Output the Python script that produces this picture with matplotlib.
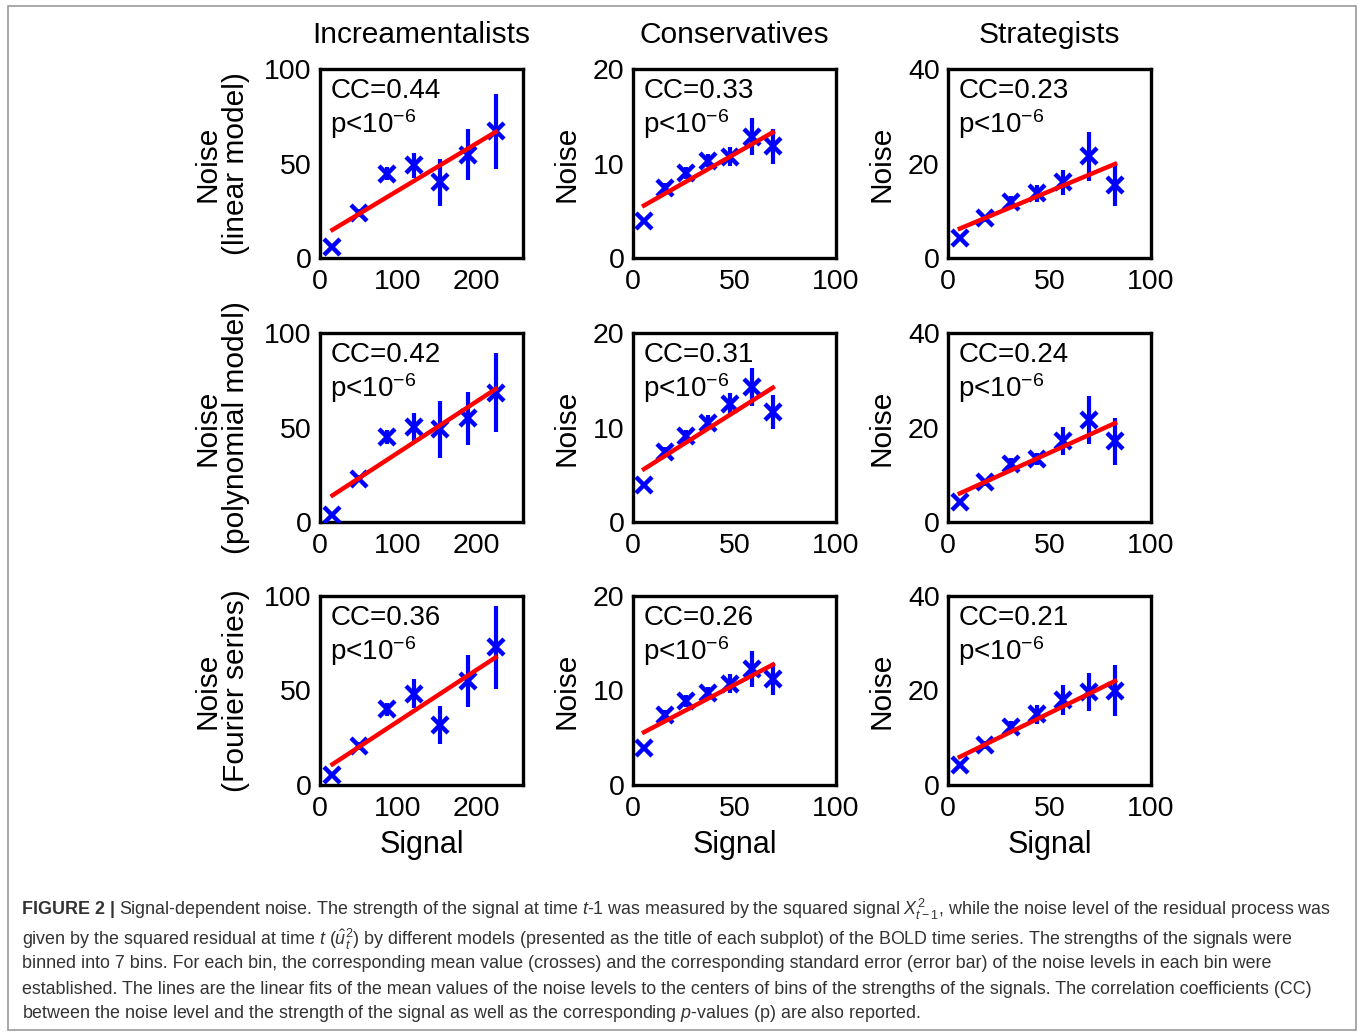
import numpy as np
import matplotlib
matplotlib.use("Agg")
import matplotlib.pyplot as plt
from matplotlib.patches import Rectangle

plt.rcParams['font.family'] = ['Liberation Sans', 'DejaVu Sans']
plt.rcParams['mathtext.fontset'] = 'custom'
plt.rcParams['mathtext.rm'] = 'Liberation Sans'
plt.rcParams['mathtext.it'] = 'Liberation Sans:italic'
plt.rcParams['mathtext.bf'] = 'Liberation Sans:bold'

# column titles / row labels
groups = ['Increamentalists', 'Conservatives', 'Strategists']
models = ['(linear model)', '(polynomial model)', '(Fourier series)']

# bin centres of the signal strength (per group)
signal_inc = [16, 50, 86, 120, 154, 189, 225]
signal_con = [5.4, 16, 26.2, 36.9, 47.9, 58.4, 68.9]
signal_str = [5.8, 18.2, 31, 43.8, 56.7, 69.4, 82.3]

# mean noise per bin and standard error, rows = models
noise_inc = [[5.8, 23.7, 44.7, 49.0, 40.0, 54.6, 67.0],
             [3.9, 22.9, 45.0, 50.4, 49.0, 55.0, 68.4],
             [5.3, 20.7, 40.0, 48.4, 31.6, 55.0, 72.8]]
err_inc = [[1, 2, 3.5, 6.5, 12.5, 13.4, 20],
           [1, 2, 3.5, 7.4, 15, 14, 21],
           [1, 2, 3.5, 7.5, 10, 13.6, 22]]

noise_con = [[3.9, 7.4, 9.0, 10.3, 10.7, 12.85, 11.8],
             [3.9, 7.4, 9.1, 10.5, 12.5, 14.3, 11.6],
             [3.9, 7.4, 8.9, 9.7, 10.7, 12.3, 11.2]]
err_con = [[0.3, 0.5, 0.6, 0.7, 1.0, 2.0, 1.8],
           [0.3, 0.5, 0.6, 0.8, 1.1, 2.0, 1.8],
           [0.3, 0.5, 0.6, 0.7, 1.0, 1.9, 1.7]]

noise_str = [[4.25, 8.4, 11.9, 13.7, 16.0, 21.5, 15.5],
             [4.3, 8.4, 12.3, 13.4, 17.1, 21.6, 17.1],
             [4.25, 8.5, 12.3, 15.0, 18.0, 19.6, 20.0]]
err_str = [[0.5, 0.8, 1.2, 1.8, 2.7, 5.1, 4.5],
           [0.5, 0.8, 1.2, 1.3, 3.0, 5.0, 5.0],
           [0.5, 0.8, 1.2, 2.0, 3.2, 4.0, 5.3]]

cc_values = [[0.44, 0.33, 0.23],
             [0.42, 0.31, 0.24],
             [0.36, 0.26, 0.21]]

xlims = [260, 100, 100]
ylims = [100, 20, 40]
xticks = [[0, 100, 200], [0, 50, 100], [0, 50, 100]]
yticks = [[0, 50, 100], [0, 10, 20], [0, 20, 40]]

signals = [signal_inc, signal_con, signal_str]
noises = [noise_inc, noise_con, noise_str]
errs = [err_inc, err_con, err_str]

W, H = 1360, 1033
fig = plt.figure(figsize=(W / 100, H / 100), dpi=100)

col_left = [320, 633, 948]
row_top = [69, 333, 596]
ax_w, ax_h = 203, 189

for r in range(3):
    for c in range(3):
        l = col_left[c] / W
        b = 1 - (row_top[r] + ax_h) / H
        ax = fig.add_axes([l, b, ax_w / W, ax_h / H])
        x = np.array(signals[c])
        y = np.array(noises[c][r])
        e = np.array(errs[c][r])

        ax.errorbar(x, y, yerr=e, fmt='none', ecolor='#0000ff',
                    elinewidth=3, capsize=0, zorder=2)
        ax.plot(x, y, 'x', color='#0000ff', ms=11, mew=3.2, zorder=3)
        k, b0 = np.polyfit(x, y, 1)
        ax.plot(x[[0, -1]], k * x[[0, -1]] + b0, color='#ff0000', lw=3.2, zorder=4)

        ax.set_xlim(0, xlims[c])
        ax.set_ylim(0, ylims[c])
        ax.set_xticks(xticks[c])
        ax.set_yticks(yticks[c])
        ax.tick_params(length=0, labelsize=20.5, pad=6)
        ax.tick_params(axis='x', pad=8)
        for s in ax.spines.values():
            s.set_linewidth(2.4)

        ax.text(0.05, 0.955, 'CC=%.2f' % cc_values[r][c], transform=ax.transAxes,
                fontsize=20, va='top', ha='left')
        ax.text(0.05, 0.80, r'p<10$^{-6}$', transform=ax.transAxes,
                fontsize=20, va='top', ha='left')

        if c == 0:
            ax.set_ylabel('Noise\n' + models[r], fontsize=21.5, linespacing=1.0)
            ax.yaxis.set_label_coords(-0.345, 0.5)
        else:
            ax.set_ylabel('Noise', fontsize=21.5)
            ax.yaxis.set_label_coords(-0.26, 0.5)
        if r == 0:
            ax.set_title(groups[c], fontsize=21.5, pad=19)
        if r == 2:
            ax.set_xlabel('Signal', fontsize=22, labelpad=6)

# outer frame
fig.patches.append(Rectangle((8 / W, 1 - 1030 / H), (1356 - 8) / W, (1030 - 6) / H,
                             transform=fig.transFigure, fill=False,
                             edgecolor='#9a9a9a', lw=1.2))

cap_color = '#333333'
cap_size = 12.9
cap_x = 22 / W
lines = [
    None,
    r'given by the squared residual at time $t$ $(\hat{u}^2_t)$ by different models (presented as the title of each subplot) of the BOLD time series. The strengths of the signals were',
    'binned into 7 bins. For each bin, the corresponding mean value (crosses) and the corresponding standard error (error bar) of the noise levels in each bin were',
    'established. The lines are the linear fits of the mean values of the noise levels to the centers of bins of the strengths of the signals. The correlation coefficients (CC)',
    r'between the noise level and the strength of the signal as well as the corresponding $p$-values (p) are also reported.',
]
ys = [909, 939, 964, 989, 1014]

bold = fig.text(cap_x, 1 - ys[0] / H, 'FIGURE 2 |', fontsize=cap_size, fontweight='bold',
                color=cap_color, va='center', ha='left')
renderer = fig.canvas.get_renderer()
bb = bold.get_window_extent(renderer)
fig.text((bb.x1 + 4) / W, 1 - ys[0] / H,
         r'Signal-dependent noise. The strength of the signal at time $t$-1 was measured by the squared signal $X^2_{t-1}$, while the noise level of the residual process was',
         fontsize=cap_size, color=cap_color, va='center', ha='left')
for yy, txt in zip(ys[1:], lines[1:]):
    fig.text(cap_x, 1 - yy / H, txt, fontsize=cap_size, color=cap_color,
             va='center', ha='left')

fig.savefig('out.png', dpi=100)
